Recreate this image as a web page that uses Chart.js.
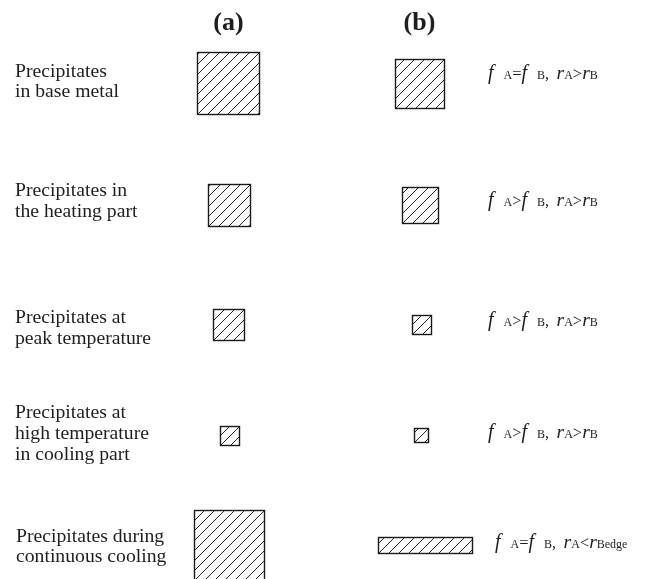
<!DOCTYPE html>
<html>
<head>
<meta charset="utf-8">
<script src="https://cdn.jsdelivr.net/npm/chart.js@4.4.0/dist/chart.umd.min.js"></script>
<style>
  html, body { margin: 0; padding: 0; background: #ffffff; }
  canvas { display: block; }
</style>
</head>
<body>
<canvas id="c" width="646" height="579"></canvas>
<script>
// Process stages (one row each)
const stages = [
  ["Precipitates", "in base metal"],
  ["Precipitates in", "the heating part"],
  ["Precipitates at", "peak temperature"],
  ["Precipitates at", "high temperature", "in cooling part"],
  ["Precipitates during", "continuous cooling"]
];
const columnTitles = ["(a)", "(b)"];

// Row positions on the vertical axis
const rowPos = [83, 204.5, 324, 435, 544.5];

// Column (a): precipitate boxes, width = height
const colA = [228.5, 228.5, 228.5, 229, 229];
const sizeA = [62, 42, 31, 19, 70];

// Column (b): precipitate boxes
const colB = [419.5, 419.5, 421, 421, 424.5];
const widthB = [49, 36, 19, 14, 94];
const heightB = [49, 36, 19, 14, 16];

// Relation between the two columns for each stage
const relations = [
  "f A=f B, rA>rB",
  "f A>f B, rA>rB",
  "f A>f B, rA>rB",
  "f A>f B, rA>rB",
  "f A=f B, rA<rBedge"
];

// Text layout
const SERIF = '"Liberation Serif", "Times New Roman", serif';
const INK = '#1e1e1e';
const labelX = [15, 15, 15, 15, 16];
const labelFirstBaseline = [76.7, 196, 323.3, 418.3, 541.7];
const labelLineGap = 20.6;
const relationX = [488, 488, 488, 488, 495];
const relationBaseline = [79.3, 206, 326, 438, 548.3];
const titleBaseline = 29.5;

function drawHatchedBox(ctx, L, T, W, H) {
  ctx.save();
  ctx.beginPath();
  ctx.rect(L, T, W, H);
  ctx.clip();
  ctx.strokeStyle = '#252525';
  ctx.lineWidth = 1;
  ctx.beginPath();
  const step = 10;
  const B = T + H;
  for (let k = -Math.ceil(H / step) * step; k <= W; k += step) {
    ctx.moveTo(L + k, B);
    ctx.lineTo(L + k + H, T);
  }
  ctx.stroke();
  ctx.restore();
  ctx.save();
  ctx.strokeStyle = '#1a1a1a';
  ctx.lineWidth = 1.4;
  ctx.strokeRect(L, T, W, H);
  ctx.restore();
}

const hatchBoxes = {
  id: 'hatchBoxes',
  afterDatasetsDraw(chart) {
    const { ctx } = chart;
    const xs = chart.scales.x, ys = chart.scales.y;
    chart.data.datasets.forEach(ds => {
      ds.data.forEach(p => {
        const x1 = xs.getPixelForValue(p.x - p.w / 2);
        const x2 = xs.getPixelForValue(p.x + p.w / 2);
        const y1 = ys.getPixelForValue(p.y - p.h / 2);
        const y2 = ys.getPixelForValue(p.y + p.h / 2);
        drawHatchedBox(ctx, Math.round(Math.min(x1, x2)) + 0.5, Math.round(Math.min(y1, y2)) + 0.5,
          Math.round(Math.abs(x2 - x1)), Math.round(Math.abs(y2 - y1)));
      });
    });
  }
};

// Symbols f and r in italics, subscripts A/B small, operators in roman
function drawRelation(ctx, str, x0, base) {
  const tokens = str.match(/[A-Z][a-z]*|[fr]|[^A-Zfr]+/g);
  let x = x0;
  let prev = '';
  ctx.textBaseline = 'alphabetic';
  ctx.textAlign = 'left';
  tokens.forEach(tok => {
    if (tok === 'f' || tok === 'r') {
      ctx.font = 'italic ' + (tok === 'f' ? 20 : 19.5) + 'px ' + SERIF;
      ctx.fillText(tok, x, base);
      x += ctx.measureText(tok).width;
    } else if (/^[A-Z]/.test(tok)) {
      ctx.font = '12px ' + SERIF;
      ctx.fillText(tok, x, base);
      x += ctx.measureText(tok).width;
    } else {
      for (const ch of tok) {
        if (ch === ' ') {
          x += prev === 'f' ? 10 : (prev === ',' ? 7.5 : 12);
        } else {
          ctx.font = (ch === ',' ? '16px ' : '16.5px ') + SERIF;
          ctx.fillText(ch, x, base);
          x += ctx.measureText(ch).width;
        }
        prev = ch;
      }
      return;
    }
    prev = tok;
  });
}

const textLayer = {
  id: 'textLayer',
  afterDraw(chart) {
    const { ctx } = chart;
    const xs = chart.scales.x;
    ctx.save();
    ctx.fillStyle = INK;
    // column titles
    ctx.font = 'bold 26px ' + SERIF;
    ctx.textAlign = 'center';
    ctx.textBaseline = 'alphabetic';
    ctx.fillText(columnTitles[0], xs.getPixelForValue(colA[0]), titleBaseline);
    ctx.fillText(columnTitles[1], xs.getPixelForValue(colB[0]), titleBaseline);
    // stage labels
    ctx.font = '19.7px ' + SERIF;
    ctx.textAlign = 'left';
    stages.forEach((lines, i) => {
      lines.forEach((line, j) => {
        ctx.fillText(line, labelX[i], labelFirstBaseline[i] + j * labelLineGap);
      });
    });
    // relations
    relations.forEach((rel, i) => drawRelation(ctx, rel, relationX[i], relationBaseline[i]));
    ctx.restore();
  }
};

new Chart(document.getElementById('c'), {
  type: 'scatter',
  data: {
    datasets: [
      {
        label: columnTitles[0],
        data: rowPos.map((y, i) => ({ x: colA[i], y: y, w: sizeA[i], h: sizeA[i] })),
        pointRadius: 0
      },
      {
        label: columnTitles[1],
        data: rowPos.map((y, i) => ({ x: colB[i], y: y, w: widthB[i], h: heightB[i] })),
        pointRadius: 0
      }
    ]
  },
  options: {
    responsive: false,
    animation: false,
    layout: { padding: 0 },
    plugins: { legend: { display: false }, tooltip: { enabled: false } },
    scales: {
      x: { type: 'linear', min: 0, max: 646, display: false },
      y: { type: 'linear', min: 0, max: 579, reverse: true, display: false }
    }
  },
  plugins: [hatchBoxes, textLayer]
});
</script>
</body>
</html>
